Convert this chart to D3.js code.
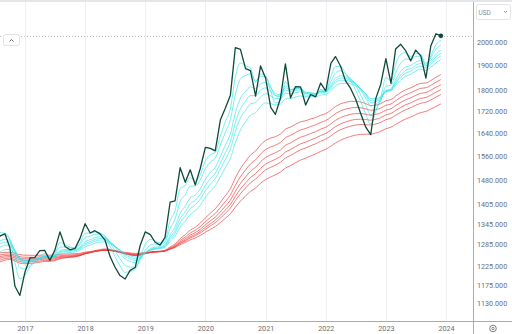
<!DOCTYPE html>
<html>
<head>
<meta charset="utf-8">
<script src="https://cdn.jsdelivr.net/npm/d3@7/dist/d3.min.js"></script>
<style>
  html, body { margin: 0; padding: 0; background: #fff; }
  svg { display: block; font-family: Roboto, "Open Sans", sans-serif; }
</style>
</head>
<body>
<svg id="chart" width="512" height="334"></svg>
<script>
// Monthly closes of XAUUSD, Jul 2016 .. Dec 2023
const startYear = 2016, startMonth = 6; // July 2016 (0-based month)
const closes = [
  1351.0, 1308.9, 1315.8, 1277.0, 1173.2, 1150.0,
  1210.7, 1248.5, 1249.3, 1268.3, 1268.7, 1241.6, 1268.9, 1321.4, 1279.8, 1270.6, 1274.6, 1302.6,
  1345.1, 1317.9, 1324.7, 1315.4, 1298.6, 1252.6, 1223.7, 1201.1, 1192.0, 1214.9, 1222.3, 1282.5,
  1321.2, 1313.3, 1292.3, 1283.6, 1305.6, 1409.6, 1413.7, 1520.2, 1472.4, 1513.0, 1463.9, 1517.3,
  1589.2, 1585.7, 1577.1, 1686.4, 1730.3, 1780.9, 1975.9, 1967.7, 1886.9, 1878.8, 1776.9, 1898.4,
  1847.7, 1734.1, 1707.7, 1768.9, 1906.9, 1770.1, 1814.2, 1813.6, 1742.9, 1783.3, 1774.4, 1828.6,
  1797.0, 1908.9, 1937.4, 1896.9, 1837.3, 1807.3, 1765.9, 1711.0, 1660.6, 1633.6, 1768.5, 1824.0,
  1928.4, 1826.9, 1969.3, 1990.0, 1962.5, 1919.4, 1965.1, 1940.1, 1848.6, 1983.9, 2036.4, 2027.0
];

// Guppy multiple moving averages: short and long EMA groups,
// with the level of each average at the first bar
const shortPeriods = [3, 5, 8, 10, 12, 15];
const shortStart   = [1330, 1312, 1292, 1282, 1272, 1258];
const longPeriods  = [30, 35, 40, 45, 50, 60];
const longStart    = [1232, 1238, 1244, 1249, 1254, 1260];

const yearTicks = [2017, 2018, 2019, 2020, 2021, 2022, 2023, 2024];
const priceTicks = [2000, 1900, 1800, 1720, 1640, 1560, 1480, 1405, 1345, 1285, 1225, 1175, 1130];

const W = 512, H = 334;
const plotRight = 473, plotBottom = 321, plotTop = 2;

const svg = d3.select("#chart");

const dates = closes.map((_, i) => new Date(startYear, startMonth + i, 1));

const x = d3.scaleTime()
  .domain([new Date(2017, 0, 1), new Date(2024, 0, 1)])
  .range([25, 446]);
const y = d3.scaleLog()
  .domain([1130, 2000])
  .range([303.5, 42]);

function ema(period, seed) {
  const a = 2 / (period + 1);
  let e = seed;
  return closes.map((c, i) => {
    if (i > 0) e = a * c + (1 - a) * e;
    return e;
  });
}

// top strip
svg.append("rect").attr("x", 0).attr("y", 0).attr("width", W).attr("height", 2).attr("fill", "#e3e5e9");

// vertical year grid
svg.append("g").selectAll("line").data(yearTicks).join("line")
  .attr("x1", d => Math.round(x(new Date(d, 0, 1))) + 0.5)
  .attr("x2", d => Math.round(x(new Date(d, 0, 1))) + 0.5)
  .attr("y1", plotTop).attr("y2", plotBottom)
  .attr("stroke", "#eef0f3").attr("stroke-width", 1);

// clip for plot area
svg.append("clipPath").attr("id", "plotClip")
  .append("rect").attr("x", 0).attr("y", plotTop).attr("width", plotRight).attr("height", plotBottom - plotTop);

const plot = svg.append("g").attr("clip-path", "url(#plotClip)");

const smooth = d3.line()
  .x((d, i) => x(dates[i]))
  .y(d => y(d))
  .curve(d3.curveMonotoneX);
const straight = d3.line()
  .x((d, i) => x(dates[i]))
  .y(d => y(d));

// last price dotted line
const last = closes[closes.length - 1];
plot.append("line")
  .attr("x1", 0).attr("x2", plotRight)
  .attr("y1", Math.round(y(last)) + 0.5).attr("y2", Math.round(y(last)) + 0.5)
  .attr("stroke", "#b8bcc4").attr("stroke-width", 1).attr("stroke-dasharray", "1,2");

// long group (red)
longPeriods.forEach((p, k) => {
  plot.append("path")
    .datum(ema(p, longStart[k]))
    .attr("d", smooth)
    .attr("fill", "none")
    .attr("stroke", "#ee3b3b")
    .attr("stroke-opacity", 0.85)
    .attr("stroke-width", 0.8);
});

// short group (cyan)
shortPeriods.forEach((p, k) => {
  plot.append("path")
    .datum(ema(p, shortStart[k]))
    .attr("d", smooth)
    .attr("fill", "none")
    .attr("stroke", "#2fe3ea")
    .attr("stroke-opacity", 0.8)
    .attr("stroke-width", 0.8);
});

// price
plot.append("path")
  .datum(closes)
  .attr("d", straight)
  .attr("fill", "none")
  .attr("stroke", "#0e4a3a")
  .attr("stroke-width", 1.3)
  .attr("stroke-linejoin", "round");

plot.append("circle")
  .attr("cx", x(dates[dates.length - 1]))
  .attr("cy", y(last))
  .attr("r", 2.3)
  .attr("fill", "#0e4a3a");

// axis borders
svg.append("line").attr("x1", 0).attr("x2", W).attr("y1", plotBottom + 0.5).attr("y2", plotBottom + 0.5)
  .attr("stroke", "#a9abb0");
svg.append("line").attr("x1", plotRight + 0.5).attr("x2", plotRight + 0.5).attr("y1", 2).attr("y2", H)
  .attr("stroke", "#a9abb0");

// price axis
const yAxis = d3.axisRight(y)
  .tickValues(priceTicks)
  .tickFormat(d3.format(".3f"))
  .tickSize(0)
  .tickPadding(0);
const yg = svg.append("g").attr("transform", `translate(${plotRight + 4},0)`).call(yAxis);
yg.select(".domain").remove();
yg.selectAll("text").attr("fill", "#6a6d78").attr("font-size", 7.2).attr("font-family", "Roboto, sans-serif");

// time axis
const xAxis = d3.axisBottom(x)
  .tickValues(yearTicks.map(yr => new Date(yr, 0, 1)))
  .tickFormat(d3.timeFormat("%Y"))
  .tickSize(0)
  .tickPadding(0);
const xg = svg.append("g").attr("transform", `translate(0,${plotBottom + 5})`).call(xAxis);
xg.select(".domain").remove();
xg.selectAll("text").attr("fill", "#6a6d78").attr("font-size", 7.2).attr("font-family", "Roboto, sans-serif");

// currency selector
const cur = svg.append("g");
cur.append("rect").attr("x", 476.5).attr("y", 4.5).attr("width", 34).attr("height", 15).attr("rx", 2)
  .attr("fill", "#fff").attr("stroke", "#e2e4e8");
cur.append("text").attr("x", 478.5).attr("y", 14.5).attr("font-size", 6.5).attr("fill", "#8a8d96").text("USD");
cur.append("path").attr("d", "M504,11 L505.5,12.5 L507,11").attr("fill", "none").attr("stroke", "#777").attr("stroke-width", 0.8);

// collapse button
const btn = svg.append("g");
btn.append("rect").attr("x", 3.5).attr("y", 34.5).attr("width", 16).attr("height", 11).attr("rx", 2)
  .attr("fill", "#fff").attr("stroke", "#e0e2e6");
btn.append("path").attr("d", "M9.5,41.5 L11.5,39.5 L13.5,41.5").attr("fill", "none").attr("stroke", "#555").attr("stroke-width", 0.9);

// settings icon
const gear = svg.append("g").attr("transform", "translate(493,328.5)");
gear.append("circle").attr("r", 3.3).attr("fill", "none").attr("stroke", "#6b6e76").attr("stroke-width", 0.9);
gear.append("circle").attr("r", 1.2).attr("fill", "none").attr("stroke", "#6b6e76").attr("stroke-width", 0.8);
</script>
</body>
</html>
